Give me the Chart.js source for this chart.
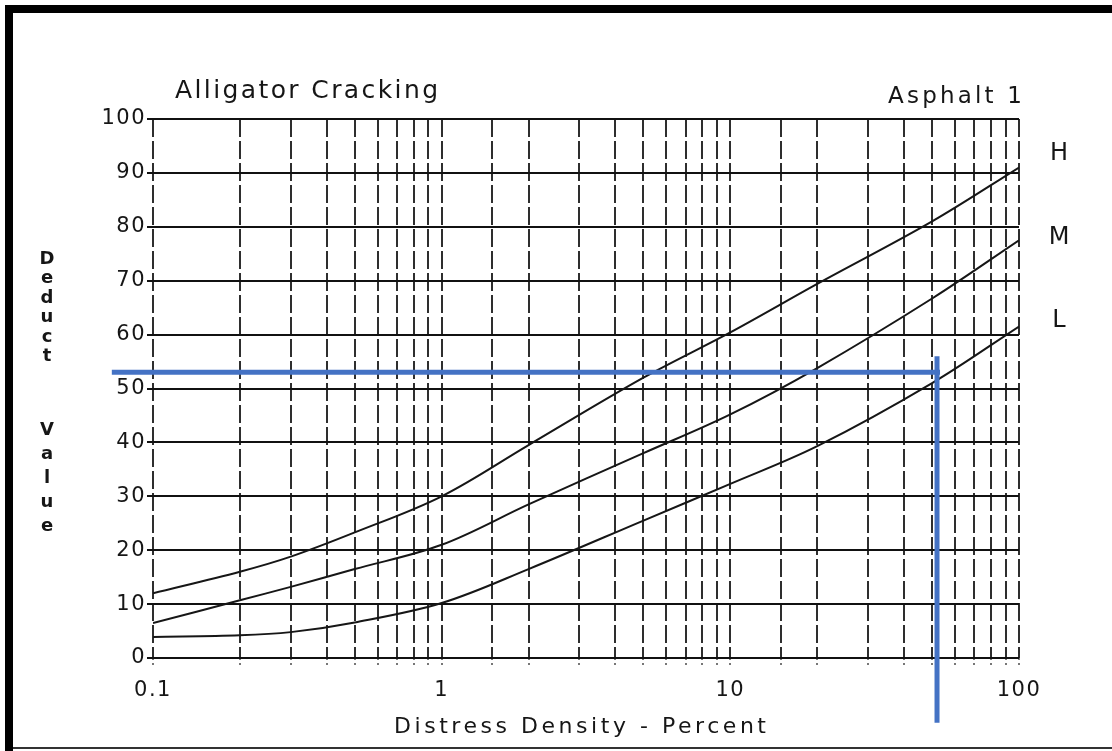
<!DOCTYPE html>
<html>
<head>
<meta charset="utf-8">
<script src="https://cdn.jsdelivr.net/npm/chart.js@4.4.1/dist/chart.umd.min.js"></script>
<style>
  html, body { margin: 0; padding: 0; background: #fff; }
  #wrap { width: 1112px; height: 751px; }
</style>
</head>
<body>
<div id="wrap"><canvas id="deductChart" width="1112" height="751"></canvas></div>
<script>
// distress density (%)
const densities = [0.1, 0.2, 0.3, 0.5, 1, 2, 5, 10, 20, 50, 100];

// deduct values per severity curve
const highValues   = [12, 16, 18.8, 23.3, 30, 39.5, 52, 60.4, 69.4, 81, 91];
const mediumValues = [6.5, 10.7, 13.2, 16.5, 21, 28.5, 38, 45.2, 53.8, 66.7, 77.5];
const lowValues    = [3.9, 4.2, 4.8, 6.6, 10.2, 16.5, 25.5, 32.3, 39.3, 51, 61.5];

const curveNames = ['H', 'M', 'L'];
const curveLabelAt = [93.5, 78, 62.5];
const xTickLabels = [0.1, 1, 10, 100];

// blue read-off marker
const markerDensity = 52;
const markerDeduct = 53;
const markerXStart = 0.072;
const markerYTop = 56;
const markerYBottom = -12;

const toPoints = (vals) => densities.map((d, i) => ({ x: d, y: vals[i] }));

const curveStyle = {
    borderColor: '#161616',
    borderWidth: 2,
    pointRadius: 0,
    fill: false,
    tension: 0.35
};

// draws text stretched to a target width (scanned lettering is wide)
function fitText(ctx, text, x, y, width, font, align) {
    ctx.save();
    ctx.font = font;
    ctx.letterSpacing = '0px';
    const natural = ctx.measureText(text).width;
    const spacing = (width - natural) / Math.max(text.length - 1, 1);
    ctx.letterSpacing = spacing + 'px';
    ctx.textAlign = 'left';
    ctx.textBaseline = 'middle';
    const left = align === 'center' ? x - width / 2 : x;
    ctx.fillText(text, left, y);
    ctx.restore();
}

const spacingPlugin = {
    id: 'spacing',
    beforeDraw(chart) {
        chart.ctx.letterSpacing = '1.5px';
    }
};

const decorPlugin = {
    id: 'decor',
    afterDatasetsDraw(chart) {
        const ctx = chart.ctx;
        const xs = chart.scales.x, ys = chart.scales.y;
        const mx = xs.getPixelForValue(markerDensity);
        const my = ys.getPixelForValue(markerDeduct);
        ctx.save();
        ctx.strokeStyle = '#4472c4';
        ctx.lineWidth = 5;
        ctx.beginPath();
        ctx.moveTo(xs.getPixelForValue(markerXStart), my);
        ctx.lineTo(mx + 3, my);
        ctx.stroke();
        ctx.beginPath();
        ctx.moveTo(mx, ys.getPixelForValue(markerYTop));
        ctx.lineTo(mx, ys.getPixelForValue(markerYBottom));
        ctx.stroke();
        ctx.restore();
    },
    afterDraw(chart) {
        const ctx = chart.ctx;
        const ys = chart.scales.y;
        ctx.save();
        ctx.fillStyle = '#161616';

        fitText(ctx, 'Alligator Cracking', 175, 91, 263, '25px "DejaVu Sans"');
        fitText(ctx, 'Asphalt 1', 888, 97, 134, '23px "DejaVu Sans"');
        fitText(ctx, 'Distress Density - Percent', 580, 727, 372, '22px "DejaVu Sans"', 'center');

        // curve names beside the right edge
        ctx.font = '24px "DejaVu Sans"';
        ctx.letterSpacing = '0px';
        ctx.textAlign = 'center';
        ctx.textBaseline = 'middle';
        curveNames.forEach((n, i) => {
            ctx.fillText(n, 1059, ys.getPixelForValue(curveLabelAt[i]));
        });

        // stacked vertical y title
        ctx.font = 'bold 18px "DejaVu Sans"';
        'Deduct'.split('').forEach((c, i) => ctx.fillText(c, 47, 259 + i * 19.5));
        'Value'.split('').forEach((c, i) => ctx.fillText(c, 47, 430 + i * 24));

        // frame of the scan
        ctx.fillStyle = '#000';
        ctx.fillRect(5, 5, 1107, 8);
        ctx.fillRect(5, 5, 8, 746);
        ctx.fillStyle = '#333';
        ctx.fillRect(13, 747, 1099, 2);
        ctx.restore();
    }
};

const chart = new Chart(document.getElementById('deductChart').getContext('2d'), {
    type: 'line',
    data: {
        datasets: [
            Object.assign({ label: 'H', data: toPoints(highValues) }, curveStyle),
            Object.assign({ label: 'M', data: toPoints(mediumValues) }, curveStyle),
            Object.assign({ label: 'L', data: toPoints(lowValues) }, curveStyle)
        ]
    },
    options: {
        responsive: false,
        animation: false,
        events: [],
        layout: { padding: { left: 0, top: 119, right: 93, bottom: 0 } },
        plugins: {
            legend: { display: false },
            tooltip: { enabled: false }
        },
        scales: {
            x: {
                type: 'logarithmic',
                min: 0.1,
                max: 100,
                afterFit(scale) { scale.height = 93; },
                ticks: {
                    autoSkip: false,
                    maxRotation: 0,
                    padding: 11,
                    color: '#161616',
                    font: { family: '"DejaVu Sans"', size: 21 },
                    callback(value) {
                        const hit = xTickLabels.find(t => Math.abs(t - value) / t < 1e-6);
                        return hit !== undefined ? String(hit) : '';
                    }
                },
                grid: {
                    color: '#2e2e2e',
                    lineWidth: 2,
                    tickLength: 9,
                    tickColor: '#777',
                    tickBorderDash: [2, 3]
                },
                border: { display: false, dash: [18, 4] }
            },
            y: {
                min: 0,
                max: 100,
                afterFit(scale) { scale.width = 153; },
                ticks: {
                    stepSize: 10,
                    padding: 1,
                    color: '#161616',
                    font: { family: '"DejaVu Sans"', size: 21 }
                },
                grid: {
                    color: '#111',
                    lineWidth: 2,
                    tickLength: 6
                },
                border: { display: false }
            }
        }
    },
    plugins: [spacingPlugin, decorPlugin]
});
</script>
</body>
</html>
